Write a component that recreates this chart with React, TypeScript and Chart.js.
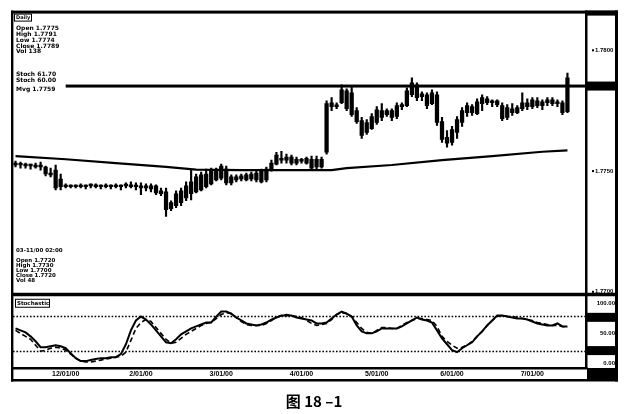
import React, { useEffect, useRef } from "react";
import { Chart, registerables } from "chart.js";
Chart.register(...registerables);

// ---------- data ----------
const slotCount = 114;
const xTickIndex = [10, 25, 41, 57, 72, 87, 103];
const xTickText = ["12/01/00", "2/01/00", "3/01/00", "4/01/00", "5/01/00", "6/01/00", "7/01/00"];

const opens = [
  1.77533, 1.77525, 1.77529, 1.77521, 1.77525, 1.77517, 1.77517, 1.77492, 1.77504, 1.77467,
  1.77439, 1.77439, 1.77435, 1.77439, 1.77435, 1.77439, 1.77443, 1.77435, 1.77439, 1.77435,
  1.77439, 1.77435, 1.77439, 1.77443, 1.77435, 1.77439, 1.7743, 1.77439, 1.77439, 1.77418,
  1.77414, 1.77344, 1.77357, 1.77369, 1.77389, 1.77406, 1.77414, 1.77422, 1.77435, 1.77447,
  1.77463, 1.77471, 1.77508, 1.77451, 1.77463, 1.77467, 1.77463, 1.77467, 1.77463, 1.77455,
  1.77463, 1.77504, 1.77529, 1.77553, 1.77545, 1.77558, 1.77533, 1.77545, 1.77533, 1.77512,
  1.77549, 1.77517, 1.77578, 1.77767, 1.77771, 1.77783, 1.77832, 1.77824, 1.7775, 1.77709,
  1.7766, 1.77676, 1.77701, 1.7775, 1.77734, 1.7775, 1.77726, 1.77767, 1.77771, 1.77816,
  1.77857, 1.77808, 1.77816, 1.77779, 1.77816, 1.77705, 1.7764, 1.77619, 1.7766, 1.77701,
  1.77742, 1.77767, 1.77738, 1.77779, 1.77799, 1.77783, 1.77791, 1.77771, 1.77722, 1.77758,
  1.77742, 1.77758, 1.77783, 1.77767, 1.77791, 1.77771, 1.77783, 1.77795, 1.77779, 1.77783, 1.77746,
];
const highs = [
  1.77541, 1.77537, 1.77533, 1.77529, 1.77533, 1.77537, 1.77521, 1.77512, 1.77525, 1.77488,
  1.77447, 1.77443, 1.77443, 1.77447, 1.77443, 1.77447, 1.77447, 1.77443, 1.77447, 1.77443,
  1.77447, 1.77443, 1.77451, 1.77455, 1.77451, 1.77451, 1.77447, 1.77447, 1.77443, 1.7743,
  1.7743, 1.77377, 1.77418, 1.7743, 1.77455, 1.77504, 1.77488, 1.77496, 1.77508, 1.77512,
  1.77512, 1.77529, 1.77521, 1.77484, 1.77484, 1.77488, 1.77492, 1.77496, 1.775, 1.77508,
  1.77517, 1.77545, 1.77578, 1.77582, 1.7757, 1.77566, 1.77558, 1.77553, 1.77558, 1.77562,
  1.77562, 1.77558, 1.77791, 1.77804, 1.77783, 1.77857, 1.7784, 1.77849, 1.77763, 1.77722,
  1.77713, 1.77738, 1.77767, 1.77779, 1.77758, 1.77758, 1.77783, 1.77783, 1.77845, 1.77886,
  1.77865, 1.77828, 1.77824, 1.77836, 1.77828, 1.77722, 1.77668, 1.77685, 1.77726, 1.77763,
  1.77783, 1.77775, 1.77799, 1.77816, 1.77808, 1.77795, 1.77795, 1.77783, 1.77775, 1.77779,
  1.77771, 1.77824, 1.77799, 1.77804, 1.77804, 1.77795, 1.77804, 1.77804, 1.77795, 1.77791, 1.77906,
];
const lows = [
  1.77517, 1.77512, 1.77512, 1.77508, 1.77512, 1.77504, 1.7748, 1.77476, 1.77422, 1.77422,
  1.7743, 1.7743, 1.7743, 1.7743, 1.77426, 1.7743, 1.7743, 1.77426, 1.7743, 1.77426,
  1.7743, 1.77422, 1.7743, 1.7743, 1.77422, 1.77402, 1.77418, 1.77414, 1.77402, 1.77398,
  1.77312, 1.77336, 1.77348, 1.77357, 1.77377, 1.77381, 1.7741, 1.77418, 1.7743, 1.77443,
  1.77459, 1.77463, 1.77443, 1.77443, 1.77455, 1.77459, 1.77459, 1.77459, 1.77455, 1.77451,
  1.77455, 1.775, 1.77525, 1.77533, 1.77533, 1.77525, 1.77525, 1.77533, 1.77529, 1.77504,
  1.77508, 1.77512, 1.7757, 1.7775, 1.77758, 1.77779, 1.7775, 1.77726, 1.77697, 1.77635,
  1.77652, 1.77672, 1.77693, 1.77709, 1.77726, 1.77709, 1.77717, 1.77754, 1.77767, 1.77808,
  1.77791, 1.77791, 1.77758, 1.77775, 1.77689, 1.77619, 1.77599, 1.77607, 1.77635, 1.77685,
  1.77726, 1.7773, 1.77734, 1.7775, 1.77775, 1.77767, 1.77767, 1.77709, 1.77713, 1.7773,
  1.77738, 1.7775, 1.77754, 1.77758, 1.77763, 1.77754, 1.77771, 1.77771, 1.77767, 1.77734, 1.77742,
];
const closes = [
  1.77525, 1.77529, 1.77521, 1.77525, 1.77517, 1.77521, 1.77488, 1.77484, 1.7743, 1.77435,
  1.77435, 1.77435, 1.77439, 1.77435, 1.77439, 1.77443, 1.77435, 1.77439, 1.77435, 1.77439,
  1.77435, 1.77439, 1.77443, 1.77435, 1.77439, 1.7743, 1.77439, 1.77426, 1.7741, 1.77406,
  1.7734, 1.77369, 1.77406, 1.77418, 1.77439, 1.77455, 1.77476, 1.77484, 1.77488, 1.77504,
  1.775, 1.77521, 1.77451, 1.77476, 1.77476, 1.7748, 1.77484, 1.77488, 1.77492, 1.77504,
  1.77508, 1.77533, 1.77566, 1.77545, 1.77558, 1.77533, 1.77549, 1.77541, 1.77553, 1.77549,
  1.77517, 1.77549, 1.77779, 1.77783, 1.77767, 1.77836, 1.77758, 1.77734, 1.77705, 1.77648,
  1.77701, 1.77726, 1.77754, 1.77722, 1.7775, 1.77722, 1.77771, 1.77775, 1.77832, 1.77865,
  1.77804, 1.7782, 1.77771, 1.77824, 1.77701, 1.77631, 1.77615, 1.77672, 1.77713, 1.7775,
  1.77771, 1.77742, 1.77787, 1.77804, 1.77783, 1.77791, 1.77775, 1.77717, 1.77763, 1.77742,
  1.77763, 1.77783, 1.77767, 1.77795, 1.77771, 1.77787, 1.77795, 1.77779, 1.77787, 1.77742, 1.77886,
];

const maIndex = [0, 10, 20, 30, 36, 45, 55, 63, 66, 75, 85, 95, 105, 110];
const maValue = [1.77562, 1.77549, 1.77533, 1.77517, 1.77506, 1.77504, 1.77504, 1.77504, 1.77512, 1.77525, 1.77545, 1.77562, 1.7758, 1.77586];

const resistance = 1.77852;
const resistanceStart = 10;

const stochK = [
  58.3, 55, 51.7, 45, 36.7, 26.7, 26.7, 28.3, 30, 28.3,
  25, 16.7, 8.3, 3.3, 3.3, 5, 6.7, 8.3, 8.3, 10,
  10, 15, 31.7, 55, 71.7, 78.3, 73.3, 65, 55, 45,
  35, 33.3, 40, 48.3, 53.3, 58.3, 61.7, 65, 68.3, 68.3,
  78.3, 86.7, 86.7, 83.3, 76.7, 71.7, 66.7, 65, 63.3, 65,
  68.3, 73.3, 76.7, 80, 80, 80, 76.7, 75, 73.3, 71.7,
  66.7, 66.7, 68.3, 75, 81.7, 86.7, 83.3, 78.3, 63.3, 53.3,
  50, 50, 53.3, 58.3, 58.3, 58.3, 58.3, 61.7, 66.7, 71.7,
  76.7, 73.3, 71.7, 68.3, 55, 41.7, 31.7, 21.7, 18.3, 25,
  30, 35, 45, 53.3, 63.3, 71.7, 80, 80, 78.3, 76.7,
  75, 75, 73.3, 70, 66.7, 65, 63.3, 63.3, 66.7, 61.7, 61.7,
];
const stochD = [
  55, 50, 45, 40, 30, 20, 21.7, 25, 26.7, 25,
  21.7, 15, 8.3, 3.3, 1.7, 1.7, 3.3, 5, 6.7, 8.3,
  10, 11.7, 18.3, 38.3, 58.3, 68.3, 73.3, 70, 60, 50,
  40, 33.3, 35, 41.7, 48.3, 53.3, 58.3, 63.3, 66.7, 68.3,
  75, 81.7, 85, 83.3, 76.7, 70, 65, 63.3, 63.3, 63.3,
  66.7, 71.7, 76.7, 80, 81.7, 80, 78.3, 76.7, 71.7, 66.7,
  63.3, 65, 66.7, 73.3, 81.7, 85, 83.3, 78.3, 68.3, 58.3,
  51.7, 50, 55, 60, 60, 58.3, 58.3, 63.3, 68.3, 71.7,
  75, 75, 73.3, 71.7, 61.7, 45, 36.7, 30, 25, 26.7,
  30, 36.7, 45, 53.3, 63.3, 71.7, 78.3, 80, 78.3, 78.3,
  76.7, 75, 73.3, 71.7, 68.3, 66.7, 65, 63.3, 63.3, 61.7, 60,
];

const priceTicks = [1.77, 1.775, 1.78];
const oscTicks = [0, 50, 100];
const oscLevels = [20, 80];
const oscTagLevels = [77, 21];

const infoTop = ["Open 1.7775", "High 1.7791", "Low 1.7774", "Close 1.7789", "Vol 138"];
const infoStudy = ["Stoch 61.70", "Stoch 60.00", "Mvg 1.7759"];
const infoCursor = ["03-11/00 02:00", "Open 1.7720", "High 1.7730", "Low 1.7700", "Close 1.7720", "Vol 48"];
const panelTitle = "Daily";
const oscTitle = "Stochastic";
const caption = "图 18 –1";

// ---------- derived ----------
const categories = Array.from({ length: slotCount }, (_, i) => {
  const k = xTickIndex.indexOf(i);
  return k >= 0 ? xTickText[k] : "";
});
const bodies = opens.map((o, i) => [o, closes[i]]);
const wicks = lows.map((l, i) => [l, highs[i]]);
const maData: (number | null)[] = Array.from({ length: slotCount }, () => null);
maIndex.forEach((ix, k) => (maData[ix] = maValue[k]));

const SMALL = '"Liberation Sans", Arial, sans-serif';
const TEXTF = '"DejaVu Sans", sans-serif';

const decor = {
  id: "decor",
  beforeDatasetsDraw(chart: any) {
    const { ctx, chartArea: a, scales } = chart;
    const yo = scales.yOsc;
    ctx.save();
    ctx.strokeStyle = "#000";
    ctx.lineWidth = 1.6;
    ctx.setLineDash([1.6, 1.8]);
    for (const lv of oscLevels) {
      const y = Math.round(yo.getPixelForValue(lv)) + 0.5;
      ctx.beginPath();
      ctx.moveTo(a.left, y);
      ctx.lineTo(a.right, y);
      ctx.stroke();
    }
    ctx.restore();
  },
  afterDraw(chart: any) {
    const { ctx, chartArea: a, scales } = chart;
    const yp = scales.y;
    const yo = scales.yOsc;
    const xs = scales.x;
    const axisR = a.right + 30;
    const L = a.left - 2;
    const T = a.top - 3;
    const stripB = xs.bottom + 1;
    ctx.save();
    ctx.fillStyle = "#000";
    // frame
    ctx.fillRect(L, T, 2.4, stripB + 2.5 - T);
    ctx.fillRect(L, T, axisR + 3 - L, 3);
    ctx.fillRect(a.right, T, 33, 5);
    ctx.fillRect(axisR, T, 3, stripB + 2.5 - T);
    ctx.fillRect(a.right, T, 2.5, a.bottom - T + 1);
    ctx.fillRect(L, yp.bottom - 1, axisR + 3 - L, 3.5);
    ctx.fillRect(L, a.bottom - 1, a.right + 2.5 - L, 2.5);
    ctx.fillRect(L, stripB, axisR + 3 - L, 2.5);
    ctx.fillRect(a.right + 2, a.bottom, 28, stripB - a.bottom);
    // price tick markers
    for (const v of priceTicks) {
      const y = yp.getPixelForValue(v);
      ctx.fillRect(a.right + 7, y - 1, 2, 2);
    }
    // resistance line + tag
    const yh = yp.getPixelForValue(resistance);
    const x0 = xs.getPixelForValue(resistanceStart);
    ctx.fillRect(x0, yh - 1.5, axisR - x0, 3);
    ctx.fillRect(a.right + 2, yh - 4.5, 28, 9);
    // osc tags
    for (const v of oscTagLevels) {
      const y = yo.getPixelForValue(v);
      ctx.fillRect(a.right + 2, y - 4.5, 28, 9);
    }
    // texts
    ctx.textBaseline = "middle";
    ctx.textAlign = "left";
    ctx.lineWidth = 1;
    ctx.strokeStyle = "#000";
    ctx.strokeRect(a.left + 1.5, a.top + 0.5, 17, 7);
    ctx.font = `bold 5px ${TEXTF}`;
    ctx.fillText(panelTitle, a.left + 3, a.top + 4.2);
    ctx.font = `bold 6px ${TEXTF}`;
    infoTop.forEach((t, i) => ctx.fillText(t, a.left + 3, a.top + 15 + i * 5.8));
    const studyY = [61, 67.3, 76];
    infoStudy.forEach((t, i) => ctx.fillText(t, a.left + 3, a.top + studyY[i]));
    ctx.font = `bold 5.5px ${TEXTF}`;
    const curY = [-43, -33, -28, -23, -18, -13];
    infoCursor.forEach((t, i) => ctx.fillText(t, a.left + 3, yp.bottom + curY[i]));
    ctx.strokeRect(a.left + 2.5, yo.top + 5.5, 34, 8);
    ctx.font = `bold 5.5px ${TEXTF}`;
    ctx.fillText(oscTitle, a.left + 4, yo.top + 9.7);
    ctx.restore();
  },
};

export default function App() {
  const ref = useRef<HTMLCanvasElement>(null);
  useEffect(() => {
    const canvas = ref.current;
    if (!canvas) return;
    const chart = new Chart(canvas, {
      type: "bar",
      data: {
        labels: categories,
        datasets: [
          {
            type: "bar",
            label: "wick",
            data: wicks as any,
            yAxisID: "y",
            backgroundColor: "#000",
            borderWidth: 0,
            barThickness: 1.5,
            grouped: false,
            order: 2,
          } as any,
          {
            type: "bar",
            label: "body",
            data: bodies as any,
            yAxisID: "y",
            backgroundColor: "#000",
            borderWidth: 0,
            barThickness: 3.6,
            minBarLength: 1.8,
            grouped: false,
            order: 1,
          } as any,
          {
            type: "line",
            label: "MA",
            data: maData as any,
            yAxisID: "y",
            borderColor: "#000",
            borderWidth: 2.2,
            pointRadius: 0,
            spanGaps: true,
            tension: 0,
            order: 0,
          } as any,
          {
            type: "line",
            label: "%K",
            data: stochK,
            yAxisID: "yOsc",
            borderColor: "#000",
            borderWidth: 2,
            pointRadius: 0,
            tension: 0,
            order: 0,
          } as any,
          {
            type: "line",
            label: "%D",
            data: stochD,
            yAxisID: "yOsc",
            borderColor: "#000",
            borderWidth: 1.6,
            borderDash: [5, 3],
            pointRadius: 0,
            tension: 0,
            order: 0,
          } as any,
        ],
      },
      options: {
        animation: false,
        responsive: false,
        devicePixelRatio: 1,
        events: [],
        layout: { padding: { left: 13, top: 10, right: 16, bottom: 0 } },
        plugins: {
          legend: { display: false },
          tooltip: { enabled: false },
          title: {
            display: true,
            position: "bottom",
            text: caption,
            color: "#000",
            font: { family: '"Noto Sans CJK SC", sans-serif', size: 15, weight: "bold" },
            padding: { top: 14, bottom: 4 },
          },
        },
        scales: {
          x: {
            type: "category",
            offset: true,
            grid: { display: false, drawTicks: false },
            border: { display: false },
            ticks: {
              autoSkip: false,
              maxRotation: 0,
              minRotation: 0,
              padding: 2,
              color: "#000",
              font: { family: SMALL, size: 7, weight: "bold" },
            },
            afterFit: (s: any) => {
              s.height = 10;
            },
          },
          y: {
            type: "linear",
            position: "right",
            stack: "panels",
            stackWeight: 283,
            min: 1.76992,
            max: 1.78152,
            grid: { display: false, drawTicks: false },
            border: { display: false },
            afterBuildTicks: (s: any) => {
              s.ticks = priceTicks.map((v) => ({ value: v }));
            },
            ticks: {
              padding: 10,
              color: "#000",
              crossAlign: "near",
              font: { family: SMALL, size: 6, weight: "bold" },
              callback: (v: any) => Number(v).toFixed(4),
            },
            afterFit: (s: any) => {
              s.width = 30;
            },
          },
          yOsc: {
            type: "linear",
            position: "right",
            stack: "panels",
            stackWeight: 75,
            min: -8.3,
            max: 116.7,
            grid: { display: false, drawTicks: false },
            border: { display: false },
            afterBuildTicks: (s: any) => {
              s.ticks = oscTicks.map((v) => ({ value: v }));
            },
            ticks: {
              padding: 10,
              color: "#000",
              crossAlign: "far",
              font: { family: SMALL, size: 6, weight: "bold" },
              callback: (v: any) => Number(v).toFixed(2),
            },
            afterFit: (s: any) => {
              s.width = 30;
            },
          },
        },
      } as any,
      plugins: [decor],
    });
    return () => chart.destroy();
  }, []);
  return (
    <div style={{ position: "fixed", left: 0, top: 0, width: 631, height: 414, background: "#fff" }}>
      <canvas ref={ref} width={631} height={414} style={{ display: "block", width: 631, height: 414 }} />
    </div>
  );
}
